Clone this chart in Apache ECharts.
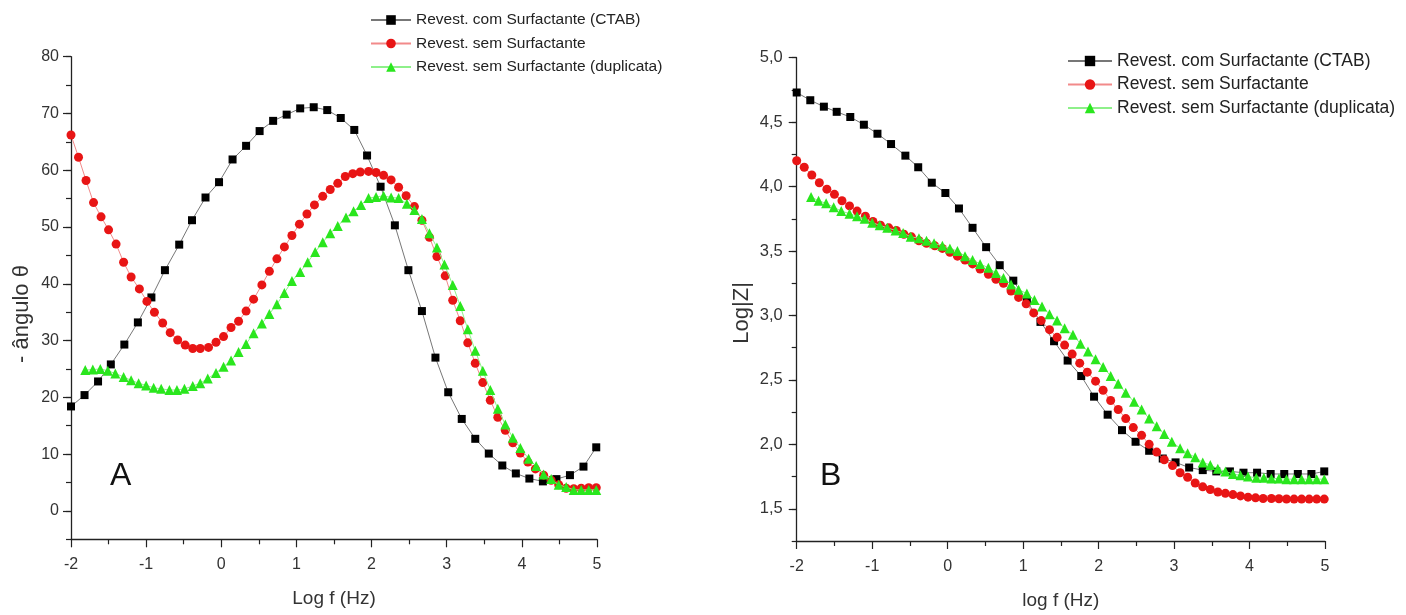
<!DOCTYPE html>
<html>
<head>
<meta charset="utf-8">
<script src="https://cdn.jsdelivr.net/npm/echarts@6/dist/echarts.min.js"></script>
<style>
html,body{margin:0;padding:0;background:#fff;}
#chart{width:1406px;height:615px;}
</style>
</head>
<body>
<div id="chart"></div>
<script>
// ---- Data (log f in Hz) ----
const seriesNames = ['Revest. com Surfactante (CTAB)', 'Revest. sem Surfactante', 'Revest. sem Surfactante (duplicata)'];

const freqBlack = [-2.00,-1.82,-1.64,-1.47,-1.29,-1.11,-0.93,-0.75,-0.56,-0.39,
  -0.21,-0.03,0.15,0.33,0.51,0.69,0.87,1.05,1.23,1.41,
  1.59,1.77,1.94,2.12,2.31,2.49,2.67,2.85,3.02,3.20,
  3.38,3.56,3.74,3.92,4.10,4.28,4.46,4.64,4.82,4.99];
const freqRed = [-2.00,-1.90,-1.80,-1.70,-1.60,-1.50,-1.40,-1.30,-1.20,-1.09,
  -0.99,-0.89,-0.78,-0.68,-0.58,-0.48,-0.38,-0.28,-0.17,-0.07,
  0.03,0.13,0.23,0.33,0.43,0.54,0.64,0.74,0.84,0.94,
  1.04,1.14,1.24,1.35,1.45,1.55,1.65,1.75,1.85,1.96,
  2.06,2.16,2.26,2.36,2.46,2.57,2.67,2.77,2.87,2.98,
  3.08,3.18,3.28,3.38,3.48,3.58,3.68,3.78,3.88,3.98,
  4.08,4.18,4.29,4.39,4.49,4.59,4.69,4.79,4.89,4.99];
const freqGreen = [-1.81,-1.71,-1.61,-1.51,-1.41,-1.30,-1.20,-1.10,-1.00,-0.90,
  -0.80,-0.69,-0.59,-0.49,-0.38,-0.28,-0.18,-0.07,0.03,0.13,
  0.23,0.33,0.43,0.54,0.64,0.74,0.84,0.94,1.05,1.15,
  1.25,1.35,1.45,1.55,1.66,1.76,1.86,1.96,2.06,2.16,
  2.26,2.36,2.47,2.57,2.67,2.77,2.87,2.97,3.08,3.18,
  3.28,3.38,3.48,3.58,3.68,3.78,3.88,3.98,4.09,4.19,
  4.29,4.39,4.49,4.59,4.69,4.79,4.89,4.99];

// Panel A: - phase angle (deg)
const phaseBlack = [18.4,20.4,22.8,25.8,29.3,33.2,37.6,42.4,46.9,51.2,
  55.2,57.9,61.9,64.3,66.9,68.7,69.8,70.9,71.1,70.6,
  69.2,67.1,62.6,57.1,50.3,42.4,35.2,27.0,20.9,16.2,
  12.7,10.1,8.0,6.6,5.7,5.2,5.6,6.3,7.8,11.2];
const phaseRed = [66.2,62.3,58.2,54.3,51.8,49.5,47.0,43.8,41.2,39.1,
  36.9,35.0,33.1,31.4,30.1,29.2,28.6,28.6,28.8,29.7,
  30.7,32.3,33.4,35.2,37.3,39.8,42.2,44.4,46.5,48.5,
  50.5,52.3,53.9,55.4,56.6,57.7,58.9,59.4,59.7,59.8,
  59.6,59.1,58.3,57.0,55.5,53.6,51.2,48.2,44.8,41.4,
  37.1,33.5,29.6,26.0,22.6,19.5,16.5,14.2,12.0,10.2,
  8.6,7.4,6.3,5.4,4.6,4.0,3.9,4.0,4.1,4.1];
const phaseGreen = [24.8,24.9,25.0,24.7,24.2,23.6,23.0,22.5,22.1,21.7,
  21.5,21.3,21.3,21.5,22.0,22.5,23.3,24.3,25.4,26.5,
  28.0,29.4,31.3,33.0,34.7,36.4,38.4,40.5,42.1,43.8,
  45.6,47.3,48.9,50.2,51.7,52.8,53.9,55.1,55.3,55.5,
  55.2,55.1,54.1,53.0,51.4,48.9,46.4,43.4,39.8,36.1,
  32.0,28.2,24.7,21.3,18.0,15.2,12.9,11.1,9.2,7.9,
  6.4,5.6,4.6,4.2,3.7,3.7,3.7,3.7];

// Panel B: log|Z|
const logZBlack = [4.73,4.67,4.62,4.58,4.54,4.48,4.41,4.33,4.24,4.15,
  4.03,3.95,3.83,3.68,3.53,3.39,3.27,3.11,2.95,2.80,
  2.65,2.53,2.37,2.23,2.11,2.02,1.95,1.89,1.86,1.82,
  1.80,1.79,1.79,1.78,1.78,1.77,1.77,1.77,1.77,1.79];
const logZRed = [4.20,4.15,4.09,4.03,3.98,3.94,3.89,3.85,3.81,3.77,
  3.73,3.70,3.68,3.66,3.63,3.61,3.58,3.56,3.54,3.52,
  3.49,3.46,3.43,3.40,3.36,3.32,3.28,3.25,3.19,3.14,
  3.09,3.02,2.96,2.89,2.83,2.77,2.70,2.63,2.56,2.49,
  2.42,2.34,2.27,2.20,2.13,2.07,2.00,1.94,1.88,1.835,
  1.78,1.745,1.70,1.67,1.65,1.63,1.62,1.61,1.60,1.59,
  1.585,1.58,1.58,1.578,1.576,1.575,1.575,1.575,1.575,1.575];
const logZGreen = [3.92,3.89,3.87,3.84,3.81,3.79,3.77,3.75,3.72,3.70,
  3.68,3.66,3.64,3.61,3.60,3.58,3.56,3.54,3.52,3.50,
  3.46,3.43,3.40,3.37,3.33,3.29,3.24,3.20,3.17,3.12,
  3.07,3.01,2.96,2.90,2.85,2.78,2.72,2.66,2.60,2.53,
  2.47,2.40,2.33,2.27,2.20,2.14,2.08,2.02,1.97,1.93,
  1.90,1.86,1.84,1.81,1.79,1.77,1.76,1.75,1.74,1.74,
  1.735,1.735,1.73,1.73,1.73,1.73,1.73,1.73];

// Tick labels
const xTicks = [-2,-1,0,1,2,3,4,5];
const phaseTicks = [0,10,20,30,40,50,60,70,80];
const logZTicks = [1.5,2.0,2.5,3.0,3.5,4.0,4.5,5.0];

// ---- Build chart ----
const FONT = '"Liberation Sans", Arial, sans-serif';
const TXT = '#333';
const pairs = (xs, ys) => xs.map((x, i) => [x, ys[i]]);

const styles = [
  {symbol: 'rect', symbolSize: 8, color: '#000000', line: '#777777'},
  {symbol: 'circle', symbolSize: 9, color: '#e81515', line: '#f28a8a'},
  {symbol: 'triangle', symbolSize: 10, color: '#2ae61e', line: '#8ef08a'}
];

function xAxisCfg(grid, name, margin) {
  return {
    type: 'value', gridIndex: grid, min: -2, max: 5, interval: 1,
    name: name, nameLocation: 'middle', nameGap: 50,
    nameTextStyle: {fontSize: 19, color: TXT, fontFamily: FONT},
    axisLine: {show: true, onZero: false, lineStyle: {color: '#222', width: 1.3}},
    axisTick: {show: true, inside: false, length: 8, lineStyle: {color: '#222', width: 1.2}},
    minorTick: {show: true, splitNumber: 2, length: 5, lineStyle: {color: '#222', width: 1.2}},
    axisLabel: {fontSize: 16, color: TXT, fontFamily: FONT, margin: margin,
      customValues: xTicks, formatter: v => String(v)},
    splitLine: {show: false}, minorSplitLine: {show: false}
  };
}

function yMinorCfg(grid, min, max, step) {
  return {
    type: 'value', gridIndex: grid, position: 'left', min: min, max: max, interval: step,
    axisLine: {show: true, onZero: false, lineStyle: {color: '#222', width: 1.3}},
    axisTick: {show: true, length: 5, lineStyle: {color: '#222', width: 1.2}},
    axisLabel: {show: false}, splitLine: {show: false}
  };
}

function yMajorCfg(grid, min, max, ticks, name, nameGap, pad, fontSize, margin, fmt) {
  return {
    type: 'value', gridIndex: grid, position: 'left', min: min, max: max,
    name: name, nameLocation: 'middle', nameGap: nameGap,
    nameTextStyle: {fontSize: 22, color: TXT, fontFamily: FONT, padding: [0, pad, 0, 0]},
    axisLine: {show: false, onZero: false},
    axisTick: {show: true, length: 8, customValues: ticks, lineStyle: {color: '#222', width: 1.2}},
    axisLabel: {fontSize: fontSize, color: TXT, fontFamily: FONT, margin: margin, customValues: ticks, formatter: fmt},
    splitLine: {show: false}
  };
}

function mkSeries(name, idx, grid, xs, ys) {
  const s = styles[idx];
  return {
    name: name, type: 'line', xAxisIndex: grid, yAxisIndex: grid * 2,
    data: pairs(xs, ys), symbol: s.symbol, symbolSize: s.symbolSize,
    showSymbol: true, showAllSymbol: true, smooth: false,
    itemStyle: {color: s.color},
    lineStyle: {color: s.line, width: 1},
    z: 2 + idx, animation: false
  };
}

const chart = echarts.init(document.getElementById('chart'), null, {renderer: 'canvas'});
chart.setOption({
  backgroundColor: '#ffffff',
  animation: false,
  grid: [
    {left: 71, top: 56.7, width: 526, height: 482.6},
    {left: 796.7, top: 57.7, width: 528.3, height: 486}
  ],
  legend: [
    {data: seriesNames, orient: 'vertical', left: 365, top: 7, itemWidth: 40, itemHeight: 12, itemGap: 7.5,
      textStyle: {fontSize: 15.5, color: '#222', fontFamily: FONT}, selectedMode: false},
    {data: seriesNames, orient: 'vertical', left: 1062, top: 47, itemWidth: 44, itemHeight: 13, itemGap: 5.5,
      textStyle: {fontSize: 17.5, color: '#222', fontFamily: FONT}, selectedMode: false}
  ],
  xAxis: [xAxisCfg(0, 'Log f (Hz)', 17), xAxisCfg(1, 'log f (Hz)', 18)],
  yAxis: [
    yMinorCfg(0, -5, 80, 5),
    yMajorCfg(0, -5, 80, phaseTicks, '- ângulo θ', 38.5, 32, 16, 12, v => String(v)),
    yMinorCfg(1, 1.25, 5.0, 0.25),
    yMajorCfg(1, 1.25, 5.0, logZTicks, 'Log|Z|', 43.5, 27, 16.5, 14, v => Number(v).toFixed(1).replace('.', ','))
  ],
  graphic: [
    {type: 'text', left: 110, top: 460, style: {text: 'A', fontSize: 32, fill: '#111', fontFamily: FONT}},
    {type: 'text', left: 820, top: 460, style: {text: 'B', fontSize: 32, fill: '#111', fontFamily: FONT}}
  ],
  series: [
    mkSeries(seriesNames[0], 0, 0, freqBlack, phaseBlack),
    mkSeries(seriesNames[1], 1, 0, freqRed, phaseRed),
    mkSeries(seriesNames[2], 2, 0, freqGreen, phaseGreen),
    mkSeries(seriesNames[0], 0, 1, freqBlack, logZBlack),
    mkSeries(seriesNames[1], 1, 1, freqRed, logZRed),
    mkSeries(seriesNames[2], 2, 1, freqGreen, logZGreen)
  ]
});
</script>
</body>
</html>
